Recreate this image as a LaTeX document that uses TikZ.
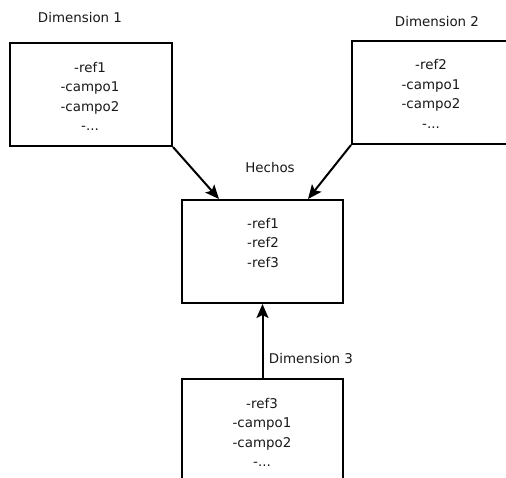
\documentclass[tikz,border=0pt]{standalone}
\usepackage{fontspec}
\setmainfont{DejaVu Sans}
\usetikzlibrary{arrows.meta}
\begin{document}
\begin{tikzpicture}[x=1pt,y=-1pt,
  table/.style={draw,line width=2pt,rectangle,minimum width=162pt,minimum height=103pt,inner sep=0pt},
  fields/.style={align=center,font=\fontsize{13.4}{19.5}\selectfont,text=black!90,inner sep=0pt},
  title/.style={font=\fontsize{13.4}{15}\selectfont,text=black!90,inner sep=0pt},
  arr/.style={line width=2pt,-{Stealth[length=14pt,width=12pt,inset=3pt]}}]
\useasboundingbox (0,0) rectangle (506,478);
\clip (0,0) rectangle (506,478);
\fill[white] (0,0) rectangle (506,478);

% dimension tables and fact table
\node[table] (d1) at (91,94.5) {};
\node[table] (d2) at (433,92.5) {};
\node[table,minimum width=161pt] (hechos) at (262.5,251.5) {};
\node[table,minimum width=161pt] (d3) at (262.5,430.5) {};

% field lists
\node[fields] (f1) at (90,96.5) {-ref1\\-campo1\\-campo2\\-...};
\node[fields] (f2) at (431,94) {-ref2\\-campo1\\-campo2\\-...};
\node[fields] (fh) at (263,243) {-ref1\\-ref2\\-ref3};
\node[fields] (f3) at (262,432.5) {-ref3\\-campo1\\-campo2\\-...};

% titles
\node[title] (t1) at (80,18) {Dimension 1};
\node[title] (t2) at (437,22) {Dimension 2};
\node[title] (th) at (270,168) {Hechos};
\node[title] (t3) at (311,359) {Dimension 3};

% references into the fact table
\draw[arr] (d1.south east) -- ([xshift=38pt]hechos.north west);
\draw[arr] (d2.south west) -- ([xshift=-36pt]hechos.north east);
\draw[arr] (d3.north) -- (hechos.south);
\end{tikzpicture}
\end{document}
